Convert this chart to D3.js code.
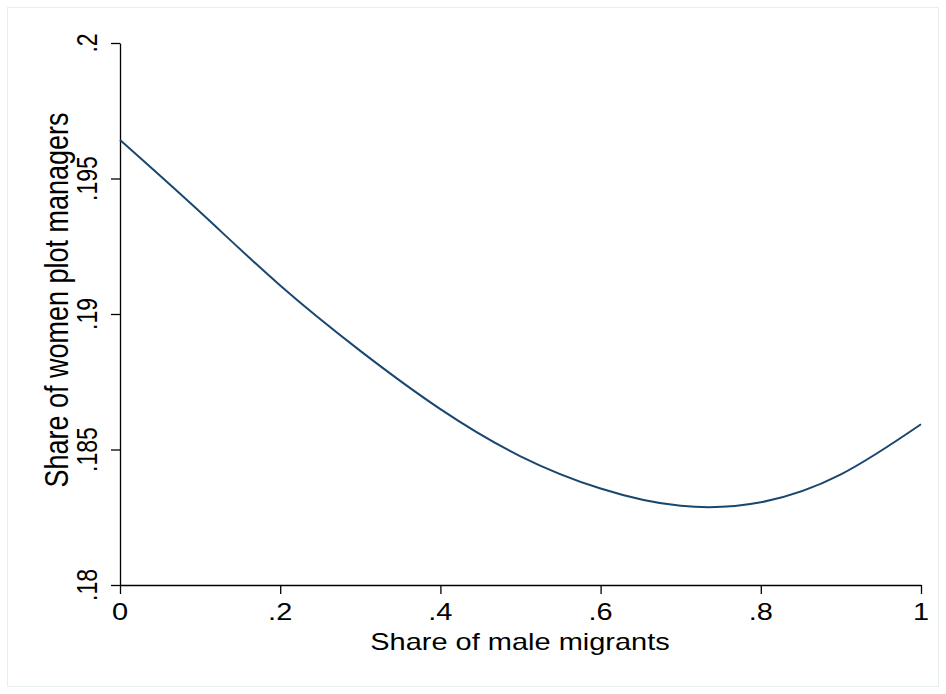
<!DOCTYPE html>
<html>
<head>
<meta charset="utf-8">
<script src="https://cdn.jsdelivr.net/npm/d3@7"></script>
<style>
  body { margin: 0; background: #fff; }
  text { font-family: "Liberation Sans", Arial, Helvetica, sans-serif; fill: #000; }
</style>
</head>
<body>
<script>
// fitted curve
const migrantShare = [0, 0.1, 0.2, 0.3, 0.4, 0.5, 0.6, 0.7, 0.8, 0.9, 1];
const womenShare = [0.19642, 0.19376, 0.19105, 0.18864, 0.18649, 0.18475, 0.18356, 0.18292, 0.18305, 0.18408, 0.18593];

const xTicks = [0, 0.2, 0.4, 0.6, 0.8, 1];
const yTicks = [0.18, 0.185, 0.19, 0.195, 0.2];

const W = 946, H = 694;
const stretch = 1.26; // the source picture is wider than it was drawn

const svg = d3.select("body").append("svg")
  .attr("width", W).attr("height", H);

svg.append("rect")
  .attr("x", 7.5).attr("y", 7.5)
  .attr("width", W - 15).attr("height", H - 15)
  .attr("fill", "#fff").attr("stroke", "#e6eef0");

const x = d3.scaleLinear().domain([0, 1]).range([120, 921]);
const y = d3.scaleLinear().domain([0.18, 0.2]).range([585, 43]);

const fmt = d => d3.format("")(d).replace(/^0\./, ".");

// x axis
svg.append("g")
  .attr("transform", "translate(0,585)")
  .call(d3.axisBottom(x).tickValues(xTicks).tickSize(9).tickSizeOuter(0).tickFormat(""))
  .call(g => g.selectAll("path, line").attr("stroke", "#000").attr("stroke-width", 1.3));

// y axis
svg.append("g")
  .attr("transform", "translate(120,0)")
  .call(d3.axisLeft(y).tickValues(yTicks).tickSize(9).tickSizeOuter(0).tickFormat(""))
  .call(g => g.selectAll("path, line").attr("stroke", "#000").attr("stroke-width", 1.3));

svg.selectAll("text.xt").data(xTicks).join("text")
  .attr("class", "xt")
  .attr("transform", d => `translate(${x(d)},620) scale(${stretch},1)`)
  .attr("text-anchor", "middle")
  .attr("font-size", 23)
  .text(fmt);

svg.selectAll("text.yt").data(yTicks).join("text")
  .attr("class", "yt")
  .attr("transform", d => `translate(97,${y(d)}) scale(${stretch},1) rotate(-90)`)
  .attr("text-anchor", "middle")
  .attr("font-size", 23)
  .text(fmt);

svg.append("text")
  .attr("transform", `translate(520,650) scale(${stretch},1)`)
  .attr("text-anchor", "middle")
  .attr("font-size", 23)
  .text("Share of male migrants");

svg.append("text")
  .attr("transform", `translate(68,300) scale(${stretch},1) rotate(-90)`)
  .attr("text-anchor", "middle")
  .attr("font-size", 27)
  .text("Share of women plot managers");

const line = d3.line()
  .x((d, i) => x(migrantShare[i]))
  .y(d => y(d))
  .curve(d3.curveNatural);

svg.append("path")
  .datum(womenShare)
  .attr("fill", "none")
  .attr("stroke", "#1a476f")
  .attr("stroke-width", 2)
  .attr("d", line);
</script>
</body>
</html>
